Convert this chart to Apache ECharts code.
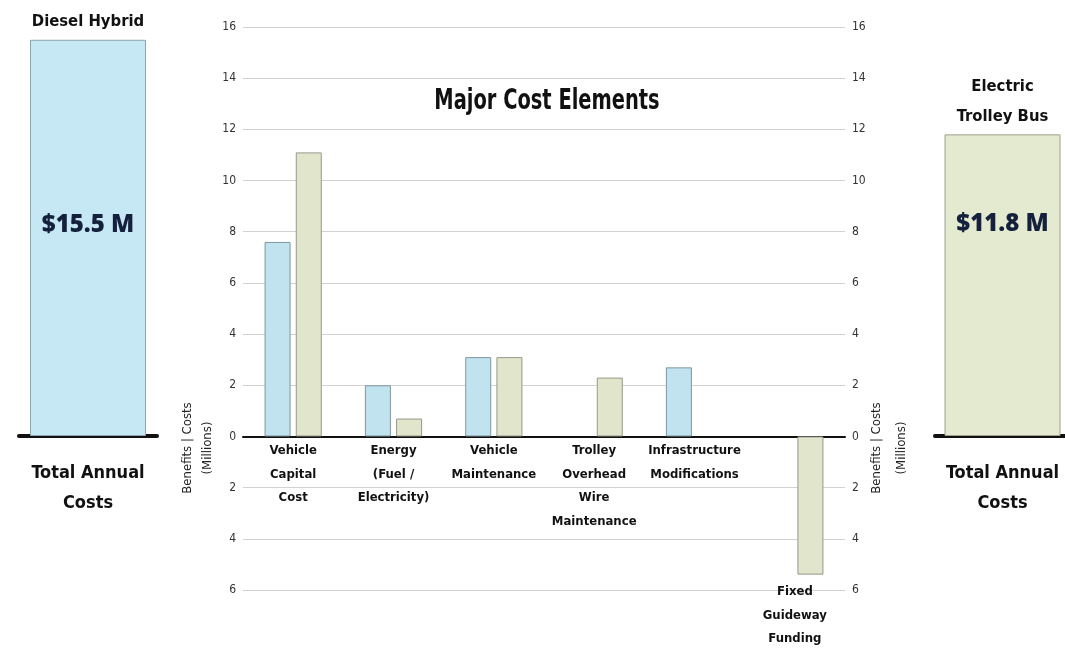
<!DOCTYPE html>
<html>
<head>
<meta charset="utf-8">
<script src="https://cdn.jsdelivr.net/npm/echarts@6/dist/echarts.min.js"></script>
<style>
  html, body { margin: 0; padding: 0; background: #fff; }
  #main { width: 1065px; height: 650px; }
</style>
</head>
<body>
<div id="main"></div>
<script>
// data (millions of dollars, costs positive, benefits negative)
var categories = ['Vehicle\nCapital\nCost', 'Energy\n(Fuel /\nElectricity)', 'Vehicle\nMaintenance',
                  'Trolley\nOverhead\nWire\nMaintenance', 'Infrastructure\nModifications', 'Fixed\nGuideway\nFunding'];
var dieselHybrid   = [7.6, 2.0, 3.1, null, 2.7, null];
var electricBus    = [11.1, 0.7, 3.1, 2.3, null, -5.4];
var totalNames     = ['Diesel Hybrid', 'Electric\nTrolley Bus'];
var totalValues    = [15.5, 11.8];
var totalFooter    = ['Total Annual\nCosts'];
var axisMin = -6, axisMax = 16, axisStep = 2;

var narrow = "'DejaVu Sans Condensed', 'Liberation Sans Narrow', sans-serif";
var blueFill = '#c1e3f0', greenFill = '#e0e5cc';

var chart = echarts.init(document.getElementById('main'));

// main value axes (left and right carry the same labels, shown as absolute values)
function valueAxis(pos) {
    return {
        type: 'value', gridIndex: 0, position: pos,
        min: axisMin, max: axisMax, interval: axisStep,
        axisLine: {show: false}, axisTick: {show: false},
        axisLabel: {
            color: '#333', fontSize: 12, fontFamily: narrow, margin: 7,
            formatter: function (v) { return Math.abs(v); }
        },
        splitLine: {show: pos === 'left', lineStyle: {color: '#d2d2d2', width: 1}}
    };
}

// hidden axes for the grids that stop at the zero line
function hiddenAxis(gridIndex) {
    return {type: 'value', gridIndex: gridIndex, min: 0, max: axisMax, interval: axisStep, show: false};
}

function sideAxis(gridIndex) {
    return {
        type: 'category', gridIndex: gridIndex, data: totalFooter,
        axisLine: {lineStyle: {color: '#111', width: 4}},
        axisTick: {show: false},
        axisLabel: {color: '#111', fontFamily: narrow, fontWeight: 'bold', fontSize: 18, lineHeight: 30, margin: 22}
    };
}

function totalSeries(i, offsetY, fill, border) {
    return [{
        type: 'bar', xAxisIndex: i + 1, yAxisIndex: i + 2,
        barWidth: 116,
        data: [totalValues[i]],
        itemStyle: {color: fill, borderColor: border, borderWidth: 1},
        label: {
            show: true, position: 'top', distance: 3,
            formatter: totalNames[i],
            color: '#111', fontFamily: narrow, fontWeight: 'bold', fontSize: 16.5, lineHeight: 30
        },
        silent: true
    }, {
        type: 'bar', xAxisIndex: i + 1, yAxisIndex: i + 2,
        barWidth: 116, barGap: '-100%',
        data: [totalValues[i]],
        itemStyle: {color: 'rgba(0,0,0,0)'},
        label: {
            show: true, position: 'inside', offset: [0, offsetY],
            formatter: function (p) { return '$' + p.value + ' M'; },
            color: '#14203c', fontFamily: "'Open Sans', sans-serif", fontWeight: 800, fontSize: 24
        },
        silent: true
    }];
}

function axisName(x, text) {
    return {type: 'text', x: x, y: 448, rotation: Math.PI / 2,
        style: {text: text, fill: '#222', font: '13px ' + narrow, align: 'center', verticalAlign: 'middle'}};
}

var option = {
    backgroundColor: '#fff',
    animation: false,
    grid: [
        {left: 243, right: 220, top: 27, bottom: 60, outerBoundsMode: 'none'},
        {left: 19, width: 138, top: 27, bottom: 214, outerBoundsMode: 'none'},
        {left: 935, width: 135, top: 27, bottom: 214, outerBoundsMode: 'none'},
        {left: 243, right: 220, top: 27, bottom: 214, outerBoundsMode: 'none'}
    ],
    xAxis: [{
        type: 'category', gridIndex: 0, data: categories,
        axisLine: {onZero: true, lineStyle: {color: '#111', width: 2}},
        axisTick: {show: false},
        axisLabel: {show: false}
    }, sideAxis(1), sideAxis(2), {
        // category labels hang just under the zero line
        type: 'category', gridIndex: 3, data: categories,
        axisLine: {show: false}, axisTick: {show: false},
        axisLabel: {
            interval: 0, color: '#111', fontFamily: narrow, fontWeight: 'bold', fontSize: 13, lineHeight: 23.5, margin: 3,
            formatter: function (v, i) { return i === 5 ? '\n\n\n\n\n\n' + v : v; }
        }
    }],
    yAxis: [valueAxis('left'), valueAxis('right'), hiddenAxis(1), hiddenAxis(2), hiddenAxis(3)],
    series: [{
        name: 'Diesel Hybrid', type: 'bar', xAxisIndex: 0, yAxisIndex: 0,
        barWidth: 26, barGap: '20%',
        data: dieselHybrid,
        itemStyle: {color: blueFill, borderColor: '#7f979f', borderWidth: 1}
    }, {
        name: 'Electric Trolley Bus', type: 'bar', xAxisIndex: 0, yAxisIndex: 0,
        barWidth: 26, barGap: '20%',
        data: electricBus,
        itemStyle: {color: greenFill, borderColor: '#96998a', borderWidth: 1}
    }].concat(totalSeries(0, -13, '#c6e8f4', '#8da5ad'), totalSeries(1, -61, '#e3eacf', '#9da08f')),
    graphic: [
        {type: 'text', x: 547, y: 101, scaleX: 0.745,
         style: {text: 'Major Cost Elements', fill: '#111', font: 'bold 29px ' + narrow, align: 'center', verticalAlign: 'middle'}},
        axisName(188, 'Benefits | Costs'),
        axisName(208, '(Millions)'),
        axisName(877, 'Benefits | Costs'),
        axisName(902, '(Millions)')
    ]
};

chart.setOption(option);
</script>
</body>
</html>
